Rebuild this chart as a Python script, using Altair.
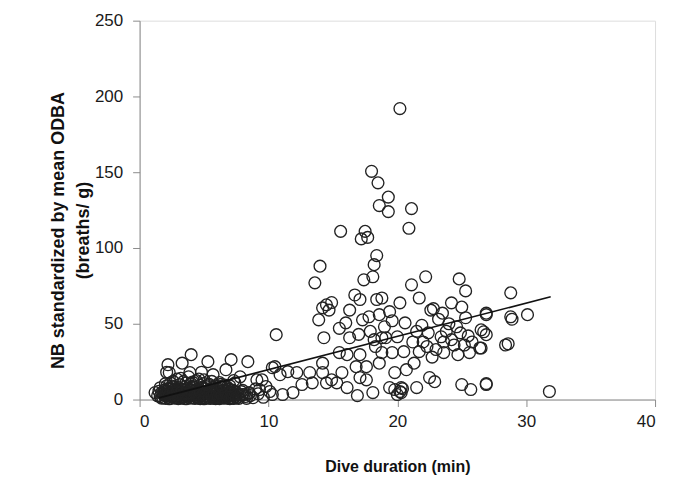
import altair as alt
import pandas as pd

# Dive duration (min) and NB standardized by mean ODBA (breaths/g)
dur = [
    # dense cluster of short dives
    1.2, 1.4, 1.6, 1.7, 1.8, 1.9, 2.0, 2.0, 2.1, 2.1, 2.2, 2.2, 2.3, 2.3, 2.4, 2.4, 2.5, 2.5,
    2.6, 2.6, 2.7, 2.7, 2.8, 2.8, 2.9, 2.9, 3.0, 3.0, 3.1, 3.1, 3.2, 3.2, 3.3, 3.3, 3.4, 3.4,
    3.5, 3.5, 3.6, 3.6, 3.7, 3.7, 3.8, 3.8, 3.9, 3.9, 4.0, 4.0, 4.1, 4.1, 4.2, 4.2, 4.3, 4.3,
    4.4, 4.4, 4.5, 4.5, 4.6, 4.6, 4.7, 4.7, 4.8, 4.8, 4.9, 4.9, 5.0, 5.0, 5.1, 5.1, 5.2, 5.2,
    5.3, 5.3, 5.4, 5.4, 5.5, 5.5, 5.6, 5.6, 5.7, 5.7, 5.8, 5.8, 5.9, 5.9, 6.0, 6.0, 6.1, 6.1,
    6.2, 6.2, 6.3, 6.3, 6.4, 6.4, 6.5, 6.5, 6.6, 6.6, 6.7, 6.7, 6.8, 6.8, 6.9, 6.9, 7.0, 7.0,
    7.1, 7.2, 7.2, 7.3, 7.4, 7.5, 7.6, 7.8, 8.0, 8.2, 8.5, 8.8, 9.0,
    1.5, 1.6, 1.7, 1.8, 1.9, 2.0, 2.1, 2.2, 2.3, 2.4, 2.5, 2.6, 2.7, 2.8, 2.9, 3.0, 3.1, 3.2,
    3.3, 3.4, 3.5, 3.6, 3.7, 3.8, 3.9, 4.0, 4.1, 4.2, 4.3, 4.4, 4.5, 4.6, 4.7, 4.8, 4.9, 5.0,
    5.1, 5.2, 5.3, 5.4, 5.5, 5.6, 5.7, 5.8, 5.9, 6.0, 6.1, 6.2, 6.3, 6.4, 6.5, 6.6, 6.7, 6.8,
    6.9, 7.0, 7.1, 7.2, 7.3, 7.4, 7.5, 7.6, 7.7, 7.9, 8.1, 8.3, 8.6, 9.2, 9.6,
    2.0, 2.6, 3.2, 4.1, 5.0, 5.6, 6.3, 7.0, 7.3, 3.6, 4.6,
    # scattered above the cluster
    4.0, 5.3, 7.1, 8.4, 2.2, 3.3, 6.7, 3.9, 2.3, 5.7, 7.8, 9.1, 10.5, 10.6, 9.3, 10.1, 8.5, 8.0,
    2.1, 4.8, 7.4, 6.4,
    # 9-17 min
    10.3, 10.9, 11.5, 12.2, 13.2, 12.6, 11.9, 11.1, 10.3, 9.8, 9.5, 13.4, 14.5, 15.3, 14.2, 15.7,
    17.6, 18.8, 18.6, 17.1, 16.8, 14.2, 14.9, 16.1, 17.1, 17.6, 18.1, 15.5, 16.1, 14.3, 14.5,
    14.9, 15.5, 16.0, 16.7, 17.1, 17.4, 18.1, 18.4, 17.8, 17.3, 16.3, 18.2, 18.8, 13.6, 13.9,
    14.2, 14.7, 16.9, 16.3,
    # high values
    20.2, 18.0, 18.5, 18.6, 19.3, 19.3, 21.1, 20.9, 15.6, 17.5, 17.2, 17.7, 18.4, 18.2, 14.0,
    # 18-27 min
    22.2, 21.1, 24.8, 25.3, 21.7, 18.8, 20.2, 24.2, 25.0, 22.6, 23.5, 26.9, 19.4, 20.6, 21.9,
    25.3, 24.6, 26.5, 19.1, 20.0, 21.2, 22.3, 23.4, 24.2, 25.2, 25.8, 26.4, 23.6, 24.7, 21.7,
    20.5, 19.6, 22.7, 25.6, 21.3, 20.7, 19.8, 22.5, 22.9, 19.4, 20.3, 21.5, 25.0, 25.7, 26.9,
    20.4, 20.2, 20.0, 20.3, 19.8, 22.0, 22.4, 23.0, 23.8, 24.4, 24.0, 23.2, 21.5, 22.8, 25.5,
    24.9, 23.6, 17.9, 18.3, 19.0, 17.0, 18.6, 19.6,
    # long dives
    28.8, 26.9, 28.8, 28.9, 30.1, 26.7, 26.9, 26.5, 28.6, 26.9, 31.8, 28.4,
]
nb = [
    4.6, 2.5, 2.0, 4.5, 1.2, 3.0, 6.5, 0.8, 2.4, 9.0, 4.0, 1.5, 7.2, 0.5, 3.3, 11.0, 5.1, 1.9,
    2.8, 8.3, 0.9, 4.6, 6.0, 2.2, 1.3, 13.5, 3.8, 0.6, 5.5, 9.8, 2.0, 7.0, 1.1, 4.2, 3.0, 11.8,
    0.7, 6.2, 2.5, 8.8, 4.8, 1.6, 3.5, 15.0, 0.9, 6.8, 2.3, 10.5, 4.0, 1.2, 5.8, 3.0, 0.8, 8.0,
    2.0, 12.5, 4.5, 1.4, 6.5, 3.2, 0.6, 9.5, 2.6, 5.0, 1.0, 7.5, 3.6, 13.0, 0.9, 5.5, 2.2, 8.5,
    4.0, 1.3, 6.3, 10.0, 2.8, 0.7, 4.8, 7.2, 1.6, 3.4, 5.9, 0.8, 2.4, 9.0, 4.2, 1.1, 6.8, 3.0,
    0.6, 11.2, 2.0, 5.2, 1.4, 7.8, 3.6, 0.9, 4.6, 9.6, 2.2, 1.0, 5.8, 3.0, 0.7, 7.0, 2.5, 4.4,
    1.2, 6.2, 3.2, 0.8, 2.0, 4.8, 1.5, 3.0, 6.0, 2.0, 4.0, 1.2, 7.0,
    5.5, 7.8, 0.9, 3.8, 6.0, 2.9, 5.3, 7.0, 2.6, 0.9, 8.9, 4.2, 6.8, 1.5, 4.9, 7.9, 2.8, 0.9,
    6.4, 1.9, 4.4, 0.5, 7.4, 2.1, 4.5, 6.2, 8.8, 1.0, 3.8, 6.6, 2.8, 0.9, 4.9, 8.0, 3.1, 0.5,
    7.2, 4.5, 2.5, 0.9, 5.6, 2.4, 8.0, 3.8, 0.6, 6.0, 1.8, 4.3, 8.6, 2.9, 6.0, 1.2, 4.0, 8.2,
    2.6, 0.6, 5.0, 1.0, 3.6, 5.5, 1.0, 3.6, 0.8, 5.2, 3.2, 0.8, 2.6, 3.8, 1.5,
    10.5, 12.0, 14.0, 11.5, 10.6, 12.0, 10.0, 9.0, 12.5, 11.0, 13.5,
    29.6, 25.0, 26.3, 25.0, 23.0, 24.0, 19.7, 17.8, 17.8, 16.4, 15.0, 13.0, 21.7, 42.8, 6.6, 5.3,
    4.6, 3.3, 18.0, 18.0, 11.0, 8.6,
    21.0, 16.4, 18.4, 17.8, 17.8, 9.9, 4.6, 3.3, 3.3, 8.6, 13.0, 11.0, 11.0, 11.0, 17.8, 17.8,
    13.0, 31.0, 24.0, 29.6, 21.7, 24.0, 13.0, 7.9, 14.5, 21.7, 4.6, 31.0, 29.6, 40.8, 62.5,
    64.0, 47.0, 50.6, 69.0, 66.0, 79.0, 81.0, 66.0, 54.6, 52.6, 40.8, 39.5, 40.8, 77.0, 52.6,
    60.5, 59.0, 2.6, 59.0,
    192.0, 150.6, 143.0, 128.0, 133.6, 124.0, 126.0, 113.0, 111.0, 111.0, 106.0, 107.0, 95.0,
    89.0, 88.0,
    81.0, 75.7, 79.6, 71.7, 67.0, 67.0, 63.8, 63.8, 61.0, 59.0, 57.0, 57.0, 58.0, 50.6, 49.0,
    54.0, 48.0, 46.0, 40.8, 41.4, 38.0, 35.0, 41.4, 39.5, 36.0, 38.0, 34.0, 31.0, 29.6, 31.6,
    31.6, 31.0, 28.0, 31.0, 24.0, 19.7, 17.8, 14.5, 11.8, 7.9, 7.9, 7.9, 9.9, 6.6, 9.9,
    7.2, 5.3, 3.3, 4.6, 6.6, 38.0, 44.0, 33.0, 45.0, 36.0, 50.0, 53.0, 45.0, 60.0, 42.0,
    44.0, 38.0, 45.0, 35.0, 48.0, 43.0, 56.0, 52.0,
    70.4, 56.0, 54.6, 53.0, 56.0, 44.7, 42.8, 34.0, 36.8, 10.5, 5.3, 36.0,
]

# linear trend line end points
trend_dur = [1.5, 31.9]
trend_nb = [1.1, 67.8]

x_ticks = [0, 10, 20, 30, 40]
y_ticks = [0, 50, 100, 150, 200, 250]

pts = pd.DataFrame({"dur": dur, "nb": nb})
trend = pd.DataFrame({"dur": trend_dur, "nb": trend_nb})

FONT = "Liberation Sans"

x_enc = alt.X(
    "dur:Q",
    scale=alt.Scale(domain=[0, 40], nice=False),
    axis=alt.Axis(
        values=x_ticks, title="Dive duration (min)", grid=False,
        domainColor="#8c8c8c", tickColor="#8c8c8c", tickSize=7,
        labelFont=FONT, labelFontSize=17, labelColor="#1a1a1a", labelPadding=7,
        titleFont=FONT, titleFontSize=16, titleFontWeight="bold", titleColor="#111",
        titlePadding=29,
    ),
)
y_enc = alt.Y(
    "nb:Q",
    scale=alt.Scale(domain=[0, 250], nice=False),
    axis=alt.Axis(
        values=y_ticks, title=["NB standardized by mean ODBA", "(breaths/ g)"], grid=False,
        domainColor="#8c8c8c", tickColor="#8c8c8c", tickSize=7,
        labelFont=FONT, labelFontSize=17, labelColor="#1a1a1a", labelPadding=10,
        titleFont=FONT, titleFontSize=18, titleFontWeight="bold", titleColor="#111",
        titleX=-90, titleY=210, titleBaseline="top", titleLineHeight=25, titleAngle=270,
        titleAlign="center",
    ),
)

points = alt.Chart(pts).mark_point(
    shape="circle", filled=False, size=140, stroke="#222", strokeWidth=1.35, opacity=1
).encode(x=x_enc, y=y_enc)

line = alt.Chart(trend).mark_line(color="#111", strokeWidth=1.6).encode(x="dur:Q", y="nb:Q")

chart = (
    alt.layer(points, line)
    .properties(
        width=517, height=380,
        autosize=alt.AutoSizeParams(type="none"),
        padding={"left": 132, "top": 12, "right": 20, "bottom": 82},
    )
    .configure_view(stroke=None)
    .configure(background="white")
)

chart.save("out.html", embed_options={"renderer": "svg", "actions": False})
